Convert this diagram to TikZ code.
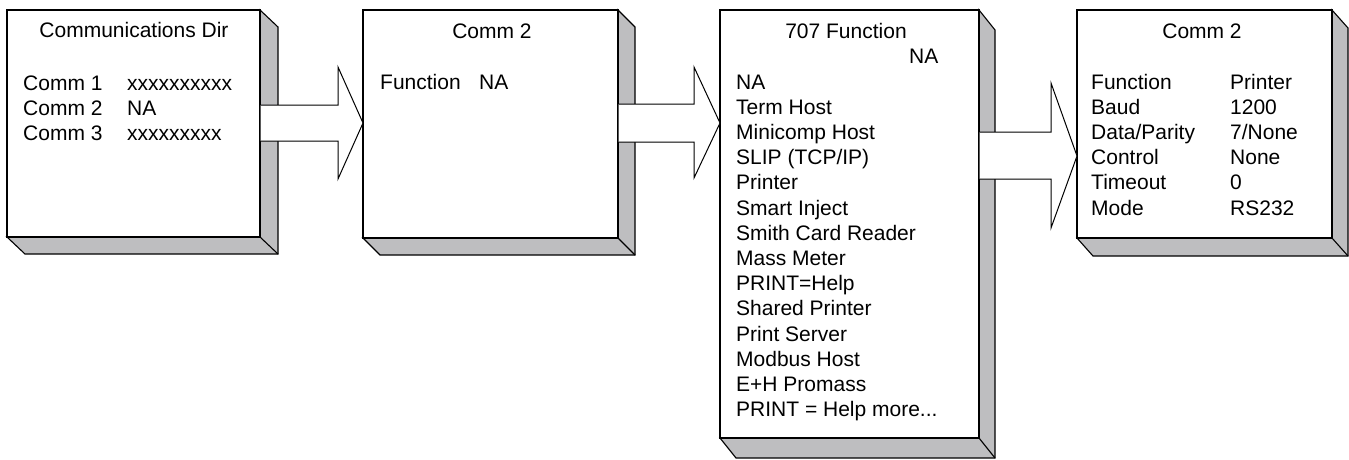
\documentclass[tikz,border=0pt]{standalone}
\usepackage{fontspec}
\setmainfont{Liberation Sans}
\usetikzlibrary{calc,backgrounds}
\definecolor{sidegray}{RGB}{190,190,192}
\tikzset{
  face/.style={draw=black, fill=white, line width=1.1pt, rectangle, inner sep=0pt, outer sep=0pt, anchor=north west},
  side/.style={draw=black, fill=sidegray, line width=1.1pt, line join=miter},
  edge/.style={draw=black, fill=white, line width=1pt, line join=miter},
  txt/.style={inner sep=0pt, anchor=base west, font=\fontsize{21}{25.2}\selectfont},
  ttl/.style={inner sep=0pt, anchor=base, font=\fontsize{21}{25.2}\selectfont},
}
\newcommand\rowlist[1]{\begin{tabular}[t]{@{}l@{}}#1\end{tabular}}
% name, left, top, width, height, depth x, depth y
\newcommand\blockbox[7]{%
  \node[face, minimum width=#4pt, minimum height=#5pt] (#1) at (#2pt,-#3pt) {};
  \begin{scope}[on background layer]
    \draw[side] (#1.north east) -- ++(#6pt,-#7pt) -- ([shift={(#6pt,-#7pt)}]#1.south east)
      -- ([shift={(#6pt,-#7pt)}]#1.south west) -- (#1.south west) -- (#1.south east) -- cycle;
    \draw[side] (#1.south east) -- ++(#6pt,-#7pt);
  \end{scope}
}
% from, to, shaft top, shaft bottom, head top, head bottom, head base x, tip y
\newcommand\fatarrow[8]{%
  \draw[edge] let \p1=(#1.east), \p2=(#2.west) in
    (\x1+0.7pt,-#3pt) -- (#7pt,-#3pt) -- (#7pt,-#5pt) -- (\x2,-#8pt)
    -- (#7pt,-#6pt) -- (#7pt,-#4pt) -- (\x1+0.7pt,-#4pt);
}
\begin{document}
\begin{tikzpicture}[x=1pt,y=1pt]
\useasboundingbox (0,0) rectangle (1349,-459);

\blockbox{b1}{7}{10}{253}{227}{18}{17}
\blockbox{b2}{363}{10}{255}{228}{17}{17}
\blockbox{b3}{720}{10}{259}{428}{16}{20}
\blockbox{b4}{1077}{10}{255}{228}{16}{18}

\fatarrow{b1}{b2}{105}{141}{67}{179}{338}{123}
\fatarrow{b2}{b3}{104}{142}{67}{178}{694}{123}
\fatarrow{b3}{b4}{132}{179}{83}{228}{1051}{156}

% box 1
\node[ttl] (t1) at (134,-37) {Communications Dir};
\node[txt] (l1) at (23,-90.5) {\rowlist{Comm 1\\Comm 2\\Comm 3}};
\node[txt] (v1) at (127,-90.5) {\rowlist{xxxxxxxxxx\\NA\\xxxxxxxxx}};

% box 2
\node[ttl] (t2) at (492,-38) {Comm 2};
\node[txt] (l2) at (380,-89) {Function};
\node[txt] (v2) at (479,-89) {NA};

% box 3
\node[ttl] (t3) at (846,-38) {707 Function};
\node[txt] (n3) at (909,-63) {NA};
\node[txt] (l3) at (736,-89) {\rowlist{NA\\Term Host\\Minicomp Host\\SLIP (TCP/IP)\\Printer\\Smart Inject\\Smith Card Reader\\Mass Meter\\PRINT=Help\\Shared Printer\\Print Server\\Modbus Host\\E+H Promass\\PRINT = Help more...}};

% box 4
\node[ttl] (t4) at (1202,-38) {Comm 2};
\node[txt] (l4) at (1091,-89) {\rowlist{Function\\Baud\\Data/Parity\\Control\\Timeout\\Mode}};
\node[txt] (v4) at (1230,-89) {\rowlist{Printer\\1200\\7/None\\None\\0\\RS232}};
\end{tikzpicture}
\end{document}
